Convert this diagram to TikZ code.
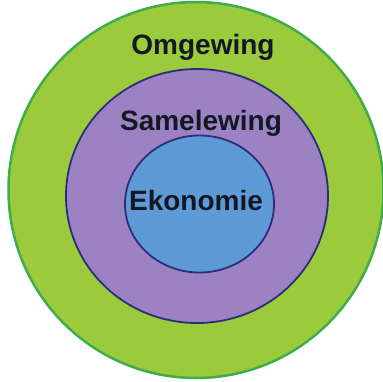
\documentclass[tikz,border=0pt]{standalone}
\usepackage{fontspec}
\setmainfont{Liberation Sans}
\usetikzlibrary{shapes.geometric}
\definecolor{omgreen}{HTML}{9BCB3C}
\definecolor{omborder}{HTML}{3FAE48}
\definecolor{sampurple}{HTML}{9C82C2}
\definecolor{ekblue}{HTML}{5E9BD6}
\definecolor{navy}{HTML}{2A2F78}
\definecolor{txt}{HTML}{141824}
\tikzset{
  ring/.style={ellipse, inner sep=0pt},
  lbl/.style={font=\fontsize{28}{30}\selectfont\bfseries, text=txt, inner sep=0pt}
}
\begin{document}
\begin{tikzpicture}[x=1pt,y=-1pt]
\useasboundingbox (0,0) rectangle (383,381);
\fill[white] (0,0) rectangle (383,381);
\node[ring, fill=omgreen, draw=omborder, line width=2.5pt, minimum width=375pt, minimum height=376pt] (omg) at (196,190) {};
\node[ring, fill=sampurple, draw=navy, line width=1.8pt, minimum width=262pt, minimum height=254pt] (sam) at (197,196) {};
\node[ring, fill=ekblue, draw=navy, line width=1.8pt, minimum width=149pt, minimum height=137pt] (eko) at (199.5,204) {};
\node[lbl] (tomg) at (203,47) {Omgewing};
\node[lbl] (tsam) at (201,123) {Samelewing};
\node[lbl] (teko) at (196,200.5) {Ekonomie};
\end{tikzpicture}
\end{document}
